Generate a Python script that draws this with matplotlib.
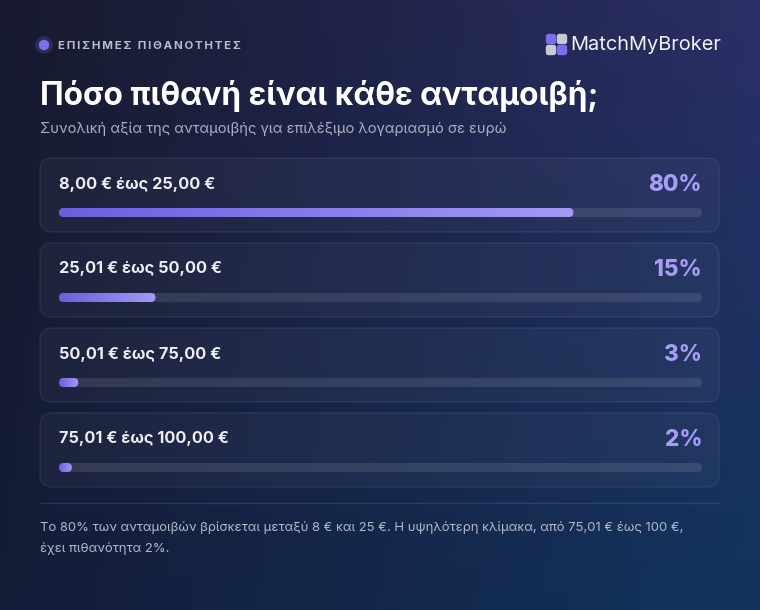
import numpy as np
import matplotlib.pyplot as plt
from matplotlib.patches import FancyBboxPatch, Circle
from matplotlib.colors import LinearSegmentedColormap

plt.rcParams['font.family'] = ['Inter', 'DejaVu Sans']

# δεδομένα
ranges = ['8,00 € έως 25,00 €', '25,01 € έως 50,00 €',
          '50,01 € έως 75,00 €', '75,01 € έως 100,00 €']
probs = [80, 15, 3, 2]

W, H = 760, 610
PX = 72 / 100  # px -> pt

fig = plt.figure(figsize=(7.6, 6.1), dpi=100)
ax = fig.add_axes([0, 0, 1, 1])
ax.set_xlim(0, W)
ax.set_ylim(H, 0)
ax.axis('off')

# φόντο με διαβάθμιση
yy, xx = np.mgrid[0:1:200j, 0:1:250j]
c_tl = np.array([0x17, 0x1a, 0x2e]) / 255
c_tr = np.array([0x2b, 0x2f, 0x66]) / 255
c_bl = np.array([0x14, 0x1c, 0x38]) / 255
c_br = np.array([0x12, 0x34, 0x5e]) / 255
img = ((1 - xx)[..., None] * (1 - yy)[..., None] * c_tl + xx[..., None] * (1 - yy)[..., None] * c_tr
       + (1 - xx)[..., None] * yy[..., None] * c_bl + xx[..., None] * yy[..., None] * c_br)
ax.imshow(img, extent=[0, W, H, 0], aspect='auto', zorder=0, interpolation='bicubic')

# κεφαλίδα
ax.add_patch(Circle((44, 45), 8, color='#2c2e55', zorder=2))
ax.add_patch(Circle((44, 45), 4.5, color='#7d6ff0', zorder=3))
hdr = 'ΕΠΙΣΗΜΕΣ ΠΙΘΑΝΟΤΗΤΕΣ'
ax.text(58, 46, '\u2009'.join(hdr), fontsize=11.5 * PX, fontweight='bold',
        color='#b9bccb', va='center', ha='left')

# λογότυπο
sq = [(546, 34, '#7b6cf0'), (557, 34, '#c9c9d2'), (546, 45, '#c9c9d2'), (557, 45, '#7b6cf0')]
for x0, y0, c in sq:
    ax.add_patch(FancyBboxPatch((x0 + 0.5, y0 + 0.5), 9, 9, boxstyle='round,pad=0,rounding_size=2',
                                color=c, zorder=3))
ax.text(570, 45, 'MatchMyBroker', fontsize=20 * PX, color='#f2f2f7', va='center', ha='left')

ax.text(40, 96, 'Πόσο πιθανή είναι κάθε ανταμοιβή;', fontsize=31.6 * PX, fontweight='bold',
        color='white', va='center', ha='left')
ax.text(40, 129, 'Συνολική αξία της ανταμοιβής για επιλέξιμο λογαριασμό σε ευρώ', fontsize=14.7 * PX,
        color='#a9adc2', va='center', ha='left')

bar_cmap = LinearSegmentedColormap.from_list('b', ['#6b5fe0', '#a598f6'])
grad = np.linspace(0, 1, 256)[None, :]

x_l, x_r = 59, 702
for i, (lab, p) in enumerate(zip(ranges, probs)):
    top = 158 + i * 85
    ax.add_patch(FancyBboxPatch((40, top), 679, 74, boxstyle='round,pad=0,rounding_size=12',
                                facecolor=(1, 1, 1, 0.035), edgecolor=(1, 1, 1, 0.07), lw=1, zorder=2))
    ax.text(x_l, top + 26, lab, fontsize=16.3 * PX, fontweight='bold', color='#eeeef4',
            va='center', ha='left', zorder=4)
    ax.text(x_r, top + 27, f'{p}%', fontsize=22.5 * PX, fontweight='heavy', color='#a99cf5',
            va='center', ha='right', zorder=4)
    ty = top + 50
    ax.add_patch(FancyBboxPatch((x_l, ty), x_r - x_l, 9, boxstyle='round,pad=0,rounding_size=4.5',
                                facecolor=(1, 1, 1, 0.1), edgecolor='none', zorder=3))
    xe = x_l + (x_r - x_l) * p / 100
    clip = FancyBboxPatch((x_l, ty), xe - x_l, 9, boxstyle='round,pad=0,rounding_size=4.5',
                          facecolor='none', edgecolor='none', transform=ax.transData)
    ax.add_patch(clip)
    im = ax.imshow(grad, cmap=bar_cmap, extent=[x_l, xe, ty + 9, ty], aspect='auto', zorder=4)
    im.set_clip_path(clip)

ax.plot([40, 719], [503, 503], color=(1, 1, 1, 0.1), lw=1, zorder=2)
ax.text(40, 528, 'Το 80% των ανταμοιβών βρίσκεται μεταξύ 8 € και 25 €. Η υψηλότερη κλίμακα, από 75,01 € έως 100 €,',
        fontsize=13.1 * PX, color='#b3b8ca', va='center', ha='left')
ax.text(40, 549, 'έχει πιθανότητα 2%.', fontsize=13.1 * PX, color='#b3b8ca', va='center', ha='left')

ax.set_xlim(0, W)
ax.set_ylim(H, 0)
fig.savefig('out.png', dpi=100)
